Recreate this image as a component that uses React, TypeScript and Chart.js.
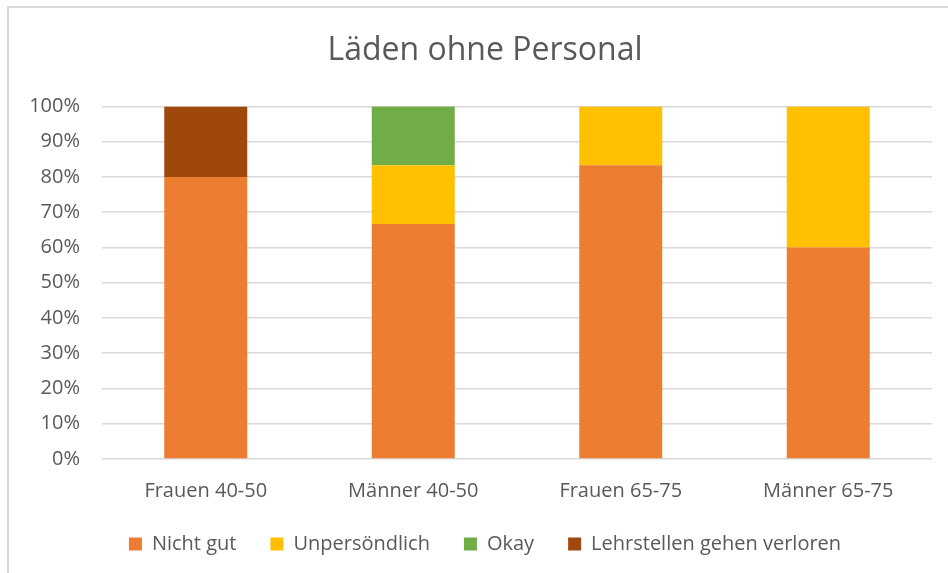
import React, { useEffect, useRef } from "react";
import { Chart, registerables } from "chart.js";

Chart.register(...registerables);

const categories = ["Frauen 40-50", "Männer 40-50", "Frauen 65-75", "Männer 65-75"];
const seriesNames = ["Nicht gut", "Unpersöndlich", "Okay", "Lehrstellen gehen verloren"];
const nichtGut = [80, 66.67, 83.33, 60];
const unpersoenlich = [0, 16.67, 16.67, 40];
const okay = [0, 16.67, 0, 0];
const lehrstellen = [20, 0, 0, 0];
const seriesColors = ["#ED7D31", "#FFC000", "#70AD47", "#9E480E"];
const titleText = "Läden ohne Personal";

const TEXT = "#595959";
const GRID = "#d9d9d9";
const FONT = "'Open Sans', sans-serif";

export default function App() {
  const ref = useRef<HTMLCanvasElement>(null);

  useEffect(() => {
    document.body.style.margin = "0";
    const values = [nichtGut, unpersoenlich, okay, lehrstellen];
    const chart = new Chart(ref.current!, {
      type: "bar",
      data: {
        labels: categories,
        datasets: seriesNames.map((name, i) => ({
          label: name,
          data: values[i],
          backgroundColor: seriesColors[i],
          borderWidth: 0,
          categoryPercentage: 1,
          barPercentage: 0.4,
          yAxisID: "y",
        })),
      },
      options: {
        animation: false,
        responsive: false,
        maintainAspectRatio: false,
        layout: { padding: { left: 0, right: 0, top: 0, bottom: 9 } },
        plugins: {
          title: {
            display: true,
            text: titleText,
            color: TEXT,
            font: { family: FONT, size: 32, weight: "normal" },
            padding: { top: 32, bottom: 36 },
          },
          legend: {
            position: "bottom",
            labels: {
              color: TEXT,
              font: { family: FONT, size: 20 },
              boxWidth: 13,
              boxHeight: 13,
              padding: 34,
            },
          },
          tooltip: { enabled: false },
        },
        scales: {
          x: {
            stacked: true,
            grid: { display: false, drawTicks: false },
            border: { display: false },
            ticks: { color: TEXT, font: { family: FONT, size: 20 }, padding: 20, maxRotation: 0 },
            afterFit: (s: any) => { s.height = 41; },
          },
          y: {
            stacked: true,
            min: 0,
            max: 100,
            grid: { color: GRID, lineWidth: 1.5, drawTicks: false },
            border: { display: false },
            ticks: {
              stepSize: 10,
              color: TEXT,
              font: { family: FONT, size: 20 },
              padding: 22,
              callback: (v: any) => v + "%",
            },
            afterFit: (s: any) => { s.width = 102; },
          },
          y2: {
            position: "right",
            display: true,
            grid: { display: false, drawTicks: false },
            border: { display: false },
            ticks: { display: false },
            afterFit: (s: any) => { s.width = 38; },
          },
        },
      },
    });
    return () => chart.destroy();
  }, []);

  return (
    <div style={{ position: "relative", width: 948, height: 573, overflow: "hidden", background: "#fff" }}>
      <canvas ref={ref} width={970} height={573} style={{ position: "absolute", left: 0, top: 0, width: 970, height: 573 }} />
      <div
        style={{
          position: "absolute",
          left: 7,
          top: 6,
          width: 1000,
          height: 600,
          borderTop: "2px solid #d9d9d9",
          borderLeft: "2px solid #d9d9d9",
          pointerEvents: "none",
        }}
      />
    </div>
  );
}
